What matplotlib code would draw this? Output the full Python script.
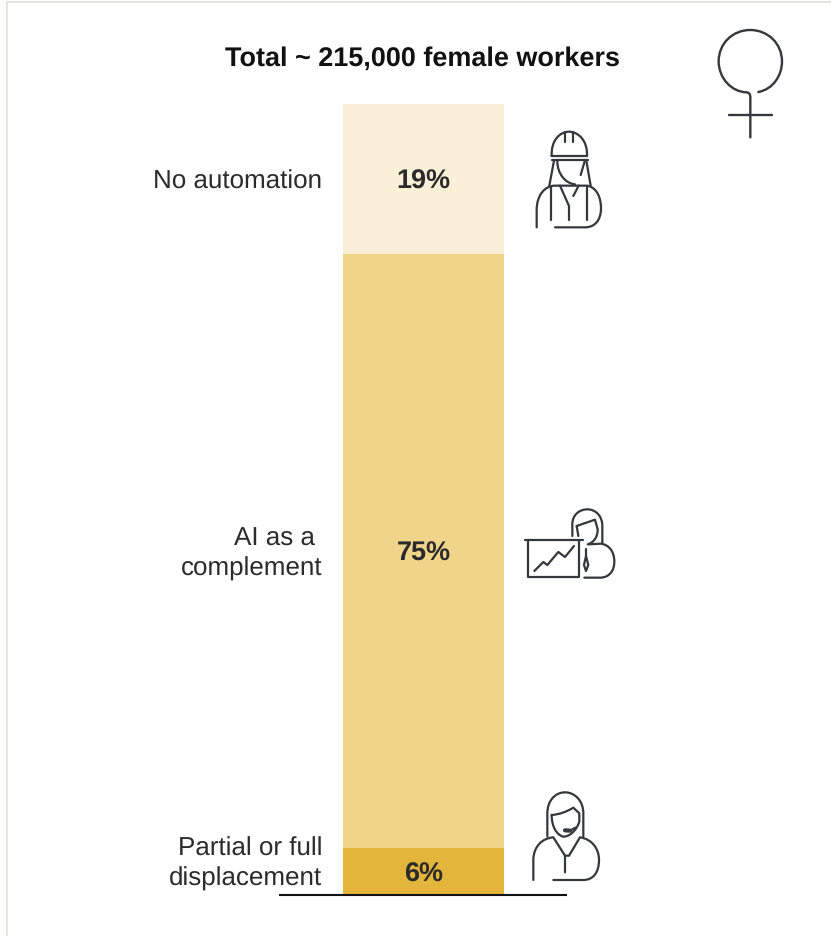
import matplotlib
matplotlib.use("Agg")
import matplotlib.pyplot as plt
from matplotlib.path import Path
from matplotlib.patches import PathPatch
from matplotlib.transforms import Affine2D

plt.rcParams["font.family"] = ["Liberation Sans", "DejaVu Sans"]
plt.rcParams["text.hinting"] = "no_hinting"
plt.rcParams["text.hinting_factor"] = 1

title = "Total ~ 215,000 female workers"
categories = ["Partial or full\ndisplacement", "AI as a \ncomplement", "No automation"]
shares = [6, 75, 19]
colors = ["#e3b53b", "#efd489", "#faf0d8"]

INK = "#33383c"
TEXT = "#2b2b2b"
PX = 7.91  # pixels per percentage point

fig = plt.figure(figsize=(8.31, 9.37), dpi=100)

# bar axes fills the figure, 0-100 runs from y=896 to y=105 in pixels
ax = fig.add_axes([0, 0, 1, 1])
ax.set_xlim(0, 831)
ax.set_ylim(-41 / PX, 896 / PX)
ax.axis("off")

# the bottom label sits above its segment, it would not fit otherwise
label_lift = [1.3, 0, 0]

bottom = 0
for cat, share, color, lift in zip(categories, shares, colors, label_lift):
    ax.bar(423.5, share, width=161, bottom=bottom, color=color, linewidth=0)
    mid = bottom + share / 2 - 2 / PX
    ax.text(423.5, mid, f"{share}%", ha="center", va="center", fontsize=19.7,
            fontweight="bold", color=TEXT)
    ax.text(322, mid + lift, cat, ha="right", va="center", fontsize=18.95, color=TEXT,
            linespacing=1.26)
    bottom += share

ax.plot([279, 567], [0, 0], color="#111111", lw=1.5, solid_capstyle="butt")

# overlay in pixel coordinates for the frame and the line icons
ov = fig.add_axes([0, 0, 1, 1])
ov.set_xlim(0, 831)
ov.set_ylim(936, -1)
ov.axis("off")
ov.patch.set_alpha(0)

ov.plot([6.5, 6.5], [937, 1.5], color="#e6e3dc", lw=1.3)
ov.plot([6.5, 831], [1.5, 1.5], color="#e6e3dc", lw=1.3)
ov.text(422, 58, title, ha="center", va="center", fontsize=19.2,
        fontweight="bold", color="#111111")

NVERTS = {"M": (1, Path.MOVETO), "L": (1, Path.LINETO),
          "Q": (2, Path.CURVE3), "C": (3, Path.CURVE4)}


def icon(ox, oy, shapes, lw=1.6):
    # each shape is a small list of commands, coordinates are at 3x scale
    tr = Affine2D().scale(1 / 3).translate(ox, oy) + ov.transData
    for shape in shapes:
        verts, codes = [], []
        for cmd in shape:
            n, code = NVERTS[cmd[0]]
            verts += list(cmd[1:])
            codes += [code] * n
        ov.add_patch(PathPatch(Path(verts, codes), fill=False, edgecolor=INK, lw=lw,
                               capstyle="round", joinstyle="round", transform=tr))


worker = [
    [("M", (95, 108)), ("C", (93, 62), (118, 36), (147, 35)), ("C", (176, 36), (203, 62), (201, 108)), ("L", (95, 108))],
    [("M", (135, 65)), ("L", (135, 37))],
    [("M", (158, 65)), ("L", (158, 37))],
    [("M", (95, 121)), ("L", (204, 121))],
    [("M", (102, 122)), ("L", (88, 197))],
    [("M", (199, 122)), ("L", (212, 197))],
    [("M", (112, 124)), ("C", (112, 160), (135, 190), (165, 193))],
    [("M", (194, 124)), ("L", (182, 165))],
    [("M", (50, 322)), ("L", (50, 270)), ("C", (50, 225), (75, 197), (105, 197)), ("L", (200, 197)),
     ("C", (228, 200), (243, 230), (243, 265)), ("C", (243, 300), (225, 322), (195, 322)), ("L", (105, 322))],
    [("M", (92, 197)), ("L", (92, 300))],
    [("M", (200, 197)), ("L", (200, 300))],
    [("M", (120, 197)), ("L", (147, 258)), ("L", (147, 300))],
    [("M", (176, 197)), ("L", (160, 228))],
]

presenter = [
    [("M", (30, 117)), ("L", (205, 117))],
    [("M", (40, 117)), ("L", (40, 228)), ("L", (192, 228)), ("L", (192, 117))],
    [("M", (58, 210)), ("L", (85, 183)), ("L", (97, 192)), ("L", (130, 153)), ("L", (150, 168)), ("L", (177, 135))],
    [("M", (172, 105)), ("L", (172, 70)), ("C", (172, 40), (195, 25), (217, 25)),
     ("C", (242, 25), (262, 45), (262, 75)), ("L", (262, 126))],
    [("M", (185, 75)), ("L", (240, 56)), ("L", (248, 85)), ("C", (248, 110), (235, 125), (218, 130))],
    [("M", (185, 75)), ("L", (190, 105))],
    [("M", (222, 130)), ("L", (258, 128)), ("C", (285, 132), (298, 155), (298, 182)),
     ("C", (298, 210), (282, 230), (255, 230)), ("L", (208, 230))],
    [("M", (213, 145)), ("L", (213, 165))],
    [("M", (213, 165)), ("L", (207, 192)), ("L", (213, 210)), ("L", (220, 192)), ("L", (213, 165))],
]

headset = [
    [("M", (82, 155)), ("L", (82, 85)), ("C", (82, 48), (105, 22), (135, 22)),
     ("C", (165, 22), (190, 48), (190, 85)), ("L", (190, 155))],
    [("M", (95, 90)), ("C", (120, 88), (140, 80), (160, 68)), ("L", (178, 85)), ("L", (178, 110)),
     ("C", (170, 135), (150, 155), (130, 155)), ("C", (110, 150), (95, 125), (95, 90))],
    [("M", (135, 137)), ("Q", (150, 140), (165, 128))],
    [("M", (40, 285)), ("L", (40, 222)), ("C", (42, 185), (65, 160), (100, 157)), ("L", (135, 212)), ("L", (135, 262))],
    [("M", (135, 212)), ("L", (147, 212)), ("L", (180, 157)), ("C", (215, 162), (237, 190), (237, 225)),
     ("C", (237, 262), (220, 285), (190, 285)), ("L", (100, 285))],
]

venus = [
    [("M", (175, 276)), ("C", (218, 268), (246, 228), (246, 184)), ("C", (246, 130), (203, 90), (151, 90)),
     ("C", (98, 90), (56, 130), (56, 184)), ("C", (56, 235), (95, 276), (140, 277)),
     ("Q", (151, 278), (151, 292)), ("L", (151, 412))],
    [("M", (87, 346)), ("L", (217, 346))],
]

icon(520, 120, worker)
icon(515, 501, presenter)
icon(520, 785, headset)
icon(700, 0, venus, lw=1.7)
# mic head is drawn heavier than the rest of the icon
icon(520, 785, [[("M", (135, 136)), ("L", (150, 137))]], lw=3)

fig.savefig("out.png", dpi=100)
